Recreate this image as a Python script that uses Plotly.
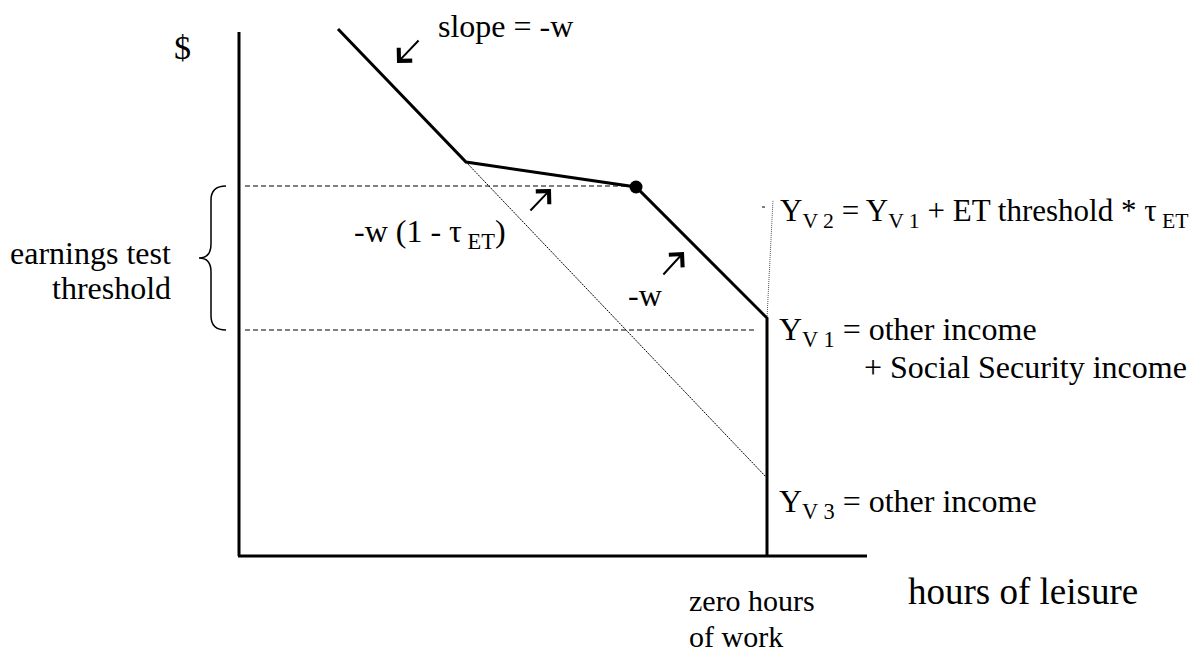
import plotly.graph_objects as go

# budget constraint, drawn in page units (y grows downward)
leisure = [338, 466, 636, 767, 767]
income = [29, 162, 187, 318, 557]

# the point where the earnings test starts to bite
et_x = [636]
et_y = [187]

# slope -w carried on past the kink, down to Y_V3
ghost_x = [466, 767]
ghost_y = [162, 478]

# dashed levels that mark the threshold band
band_top = 186
band_bottom = 330
band_x = [[245, 630], [245, 757]]

# dotted leader up to the Y_V2 label
leader_x = [767, 773]
leader_y = [318, 200]

axis_x = [239, 239]
axis_y = [32, 556]
floor_x = [238, 867]
floor_y = [556, 556]

SERIF = "Liberation Serif, Times New Roman, serif"
PAD = 8  # the page body margin the figure sits in

fig = go.Figure()

fig.add_trace(go.Scatter(x=axis_x, y=axis_y, mode="lines",
                         line=dict(color="black", width=3)))
fig.add_trace(go.Scatter(x=floor_x, y=floor_y, mode="lines",
                         line=dict(color="black", width=3)))
fig.add_trace(go.Scatter(x=band_x[0], y=[band_top, band_top], mode="lines",
                         line=dict(color="black", width=1, dash="5px,3px")))
fig.add_trace(go.Scatter(x=band_x[1], y=[band_bottom, band_bottom], mode="lines",
                         line=dict(color="black", width=1, dash="5px,3px")))
fig.add_trace(go.Scatter(x=ghost_x, y=ghost_y, mode="lines",
                         line=dict(color="black", width=1, dash="2px,1px")))
fig.add_trace(go.Scatter(x=leader_x, y=leader_y, mode="lines",
                         line=dict(color="#555", width=1, dash="1px,1px")))
fig.add_trace(go.Scatter(x=[762, 765], y=[207, 207], mode="lines",
                         line=dict(color="black", width=1)))
fig.add_trace(go.Scatter(x=leisure, y=income, mode="lines",
                         line=dict(color="black", width=3)))
fig.add_trace(go.Scatter(x=et_x, y=et_y, mode="markers",
                         marker=dict(color="black", size=13)))

# curly brace for the earnings test threshold
fig.add_shape(type="path", xref="x", yref="y",
              path="M 226,186 Q 211,186 211,200 L 211,244 Q 211,258 199,258 "
                   "Q 211,258 211,272 L 211,316 Q 211,330 226,330",
              line=dict(color="black", width=1.5))

labels = [
    ("$", 182, 47, "center", 34),
    ("slope = -w", 436, 26, "left", 32),
    ("-w (1 - τ<sub> ET</sub>)", 352, 233, "left", 32),
    ("-w", 626, 295, "left", 32),
    ("Y<sub>V 2</sub> = Y<sub>V 1</sub> + ET threshold * τ<sub> ET</sub>", 778, 213, "left", 31),
    ("Y<sub>V 1</sub> = other income", 777, 331, "left", 32),
    ("+ Social Security income", 1189, 367, "right", 32),
    ("Y<sub>V 3</sub> = other income", 777, 503, "left", 32),
    ("earnings test", 173, 253, "right", 32),
    ("threshold", 173, 288, "right", 32),
    ("hours of leisure", 906, 591, "left", 37),
    ("zero hours", 687, 600, "left", 30),
    ("of work", 687, 636, "left", 30),
]
for text, x, y, anchor, size in labels:
    fig.add_annotation(x=x, y=y, text=text, showarrow=False, xanchor=anchor,
                       yanchor="middle", font=dict(family=SERIF, size=size, color="black"))

arrows = [((420, 39), (397, 63)), ((529, 212), (551, 189)), ((662, 276), (684, 252))]
for (tx, ty), (hx, hy) in arrows:
    fig.add_annotation(x=hx, y=hy, ax=tx, ay=ty, axref="x", ayref="y", text="",
                       showarrow=True, arrowhead=4, arrowsize=1.8, arrowwidth=2,
                       arrowcolor="black")

fig.update_layout(
    width=1202, height=652,
    margin=dict(l=0, r=0, t=0, b=0),
    plot_bgcolor="white", paper_bgcolor="white",
    showlegend=False,
    xaxis=dict(range=[PAD, 1202 + PAD], visible=False, fixedrange=True),
    yaxis=dict(range=[652 + PAD, PAD], visible=False, fixedrange=True),
)

fig.write_html("out.html")
